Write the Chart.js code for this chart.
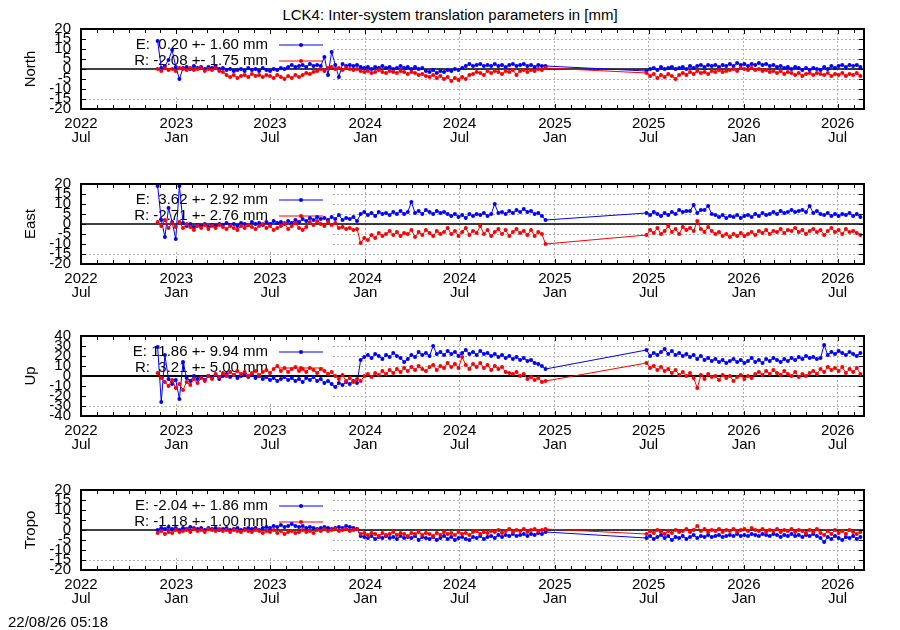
<!DOCTYPE html>
<html>
<head>
<meta charset="utf-8">
<script src="https://cdn.jsdelivr.net/npm/chart.js@4.4.1/dist/chart.umd.min.js"></script>
<style>
  body { margin: 0; width: 900px; height: 630px; background: #fff; position: relative; overflow: hidden;
         font-family: 'Liberation Sans', Arial, sans-serif; color: #000; }
  canvas { position: absolute; left: 0; }
  .title { position: absolute; left: 0; top: 7px; width: 900px; text-align: center; font-size: 15px; line-height: 16px; }
  .stamp { position: absolute; left: 8px; top: 614px; font-size: 15px; line-height: 16px; }
</style>
</head>
<body>
<div class="title">LCK4: Inter-system translation parameters in [mm]</div>
<canvas id="north" width="900" height="136" style="top:19px"></canvas>
<canvas id="east" width="900" height="136" style="top:174px"></canvas>
<canvas id="up" width="900" height="136" style="top:326px"></canvas>
<canvas id="tropo" width="900" height="136" style="top:480px"></canvas>
<div class="stamp">22/08/26 05:18</div>

<script>
// x axis runs in days from the first of July 2022
const axisStart = '2022-07-01';
const axisEnd = '2026-08-21';

// one value a week, two observation periods (gap from Dec 2024 to Jun 2025)
const periodStart = ['2022-11-26', '2025-06-27'];
const periodWeeks = [108, 60];

const tickLabels = [
  ['2022', 'Jul'], ['2023', 'Jan'], ['2023', 'Jul'], ['2024', 'Jan'], ['2024', 'Jul'],
  ['2025', 'Jan'], ['2025', 'Jul'], ['2026', 'Jan'], ['2026', 'Jul'],
];

// North [mm]
const northE = [
  14, 0.5, 1.5, 4.5, 9.5, 1, -5, 0.5, 1, 0,
  1.5, 0.5, 1, 0, 1, 0.5, 1.5, 0, 0.5, -0.5,
  0, -1, -0.5, 0, -1, 0.5, -0.5, 0, -1, 0.5,
  -0.5, -1, 0, -0.5, 0.5, 0, 1, 2, 1, 1.5,
  2, 1, 2.5, 1.5, 2, 1.5, 6, -3, 8.5, 2,
  -4, 2.5, 1.5, 2, 1.5, 2, 1, 0.5, 1, 0,
  1, 0.5, 1.5, 0.5, 1, 0, 0.5, 1.5, 0.5, 1,
  0, 1, 0, 0.5, -1, -1.5, -0.5, -2, -1, -1.5,
  -0.5, -1, 0, -0.5, 0.5, 1.5, 2.5, 1.5, 2, 2.5,
  1.5, 2, 1.5, 2.5, 1.5, 2, 1, 2, 2.5, 1.5,
  2, 2.5, 1.5, 2, 1, 2, 1.5, 1.5,
  // 2025-2026
  -1, 0, 0.5, -0.5, 1, 0, 0.5, 1, 0, 0.5,
  1, 0, 1.5, 0.5, 1.5, 2, 1, 2, 1.5, 2,
  1, 2, 1.5, 2.5, 1.5, 3, 2, 2.5, 1.5, 2.5,
  2, 3, 2, 2.5, 1.5, 2, 1, 1.5, 0.5, 1,
  0, 1, 0.5, -0.5, 0.5, -0.5, 0.5, 0, -0.5, 1,
  0, 1.5, 0.5, 1.5, 2, 1, 2, 1.5, 2, 1,
];
const northR = [
  0, -1, 0.5, -0.5, 0, -1, 0.5, 0, -0.5, 0.5,
  -0.5, 0, 0.5, -1, 0, -0.5, 0.5, -1, -1.5, -3,
  -4, -3, -4.5, -3.5, -3, -4, -2.5, -3.5, -3, -4,
  -3, -3.5, -4.5, -3, -4, -5, -3.5, -4.5, -3, -4,
  -3, -2, -2.5, -1.5, -1, 0, -1, 0.5, 1, 0,
  0.5, -0.5, 0.5, 0, -0.5, 0, -1, -1.5, -1, -2,
  -1.5, -0.5, -1.5, -2, -1, -1.5, -2, -1, -1.5, -2.5,
  -1.5, -2, -3, -2.5, -3.5, -4, -3, -4.5, -3.5, -5,
  -4, -6, -4.5, -5.5, -4, -5, -3, -2.5, -1.5, -2,
  -3, -1, -2, -1, -1.5, -2.5, -1, -1.5, -0.5, -3,
  -1, -0.5, -1.5, -0.5, -1, 0, -0.5, 0.5,
  // 2025-2026
  -2, -3.5, -2.5, -4.5, -3, -4, -2.5, -3.5, -5, -3,
  -2, -3, -1.5, -2.5, -1, -2, -1.5, -2.5, -1, -1.5,
  -0.5, -1.5, -1, -0.5, 0, -1, 0.5, 0, -0.5, 0.5,
  -0.5, 0, -1, -0.5, -1.5, -1, -2, -1, -2.5, -1.5,
  -2, -3, -2, -3.5, -2.5, -2, -3, -2, -2.5, -3,
  -2, -3.5, -2.5, -3, -2, -3.5, -2.5, -3, -2, -3.5,
];

// East [mm]
const eastE = [
  19, 2, -6.5, 8, 1, -7.5, 19, 0.5, -1, 0,
  -1.5, -0.5, -1, 0, -1.5, -0.5, -1, 0, -0.5, 0.5,
  -0.5, 0, -1, 0.5, 0, -0.5, 1, 0, 0.5, -0.5,
  1, 0, 1.5, 0.5, 1, 0, 1.5, 0.5, 2, 1,
  2.5, 1.5, 3, 2, 3.5, 2.5, 3, 2, 3.5, 2.5,
  4.5, 2, 3, 2.5, 3.5, 1.5, 5, 6, 4.5, 5.5,
  4, 6, 5, 5.5, 4.5, 6, 5, 6.5, 5, 6,
  11, 5.5, 6.5, 5, 7, 6, 5, 6.5, 5.5, 6,
  5, 4, 5, 3.5, 4.5, 3, 5, 4, 5, 4.5,
  5.5, 4, 5, 10, 5.5, 6, 5, 6.5, 5.5, 7,
  6, 7.5, 6, 6.5, 5, 5.5, 4, 2,
  // 2025-2026
  5.5, 4.5, 6, 5, 4, 5.5, 4.5, 6, 5, 7,
  6, 6.5, 6.5, 9.5, 5.5, 7, 7, 9, 5, 4.5,
  3.5, 4.5, 3, 4, 3.5, 4.5, 3, 4, 4.5, 3.5,
  5, 4, 5.5, 4.5, 5, 6, 5, 6.5, 5.5, 6,
  7, 6, 6.5, 7, 6, 9, 5.5, 6.5, 5, 4.5,
  5.5, 4, 5, 4, 5, 4.5, 5.5, 4, 5, 3.5,
];
const eastR = [
  1, -1, 2, -2, 0.5, -1.5, 1, -2, 0, -1.5,
  -3, -1, -2, -0.5, -2.5, -1, -2, -0.5, -1.5, -2.5,
  -1, -2, -3, -1, -2, -0.5, -1.5, -2.5, -1, 0,
  -2, -1, -3, -2, -1, 0.5, -2.5, -1, 0.5, -2,
  -3, -1.5, 1, -0.5, 1.5, 0, -1, 1, -0.5, 0.5,
  -2, -1.5, -2.5, -2, -3, -2.5, -9.5, -7, -8, -5.5,
  -7, -4.5, -6, -5, -3.5, -5.5, -4, -6, -4.5, -5,
  -3, -6.5, -4, -5.5, -3, -4.5, -6, -3.5, -5, -4,
  -2, -5, -3.5, -6, -4, -2, -5.5, -3.5, -4.5, -1,
  -5, -3, -6, -4, -2.5, -5, -3, -6, -4, -2.5,
  -4.5, -3.5, -5.5, -3, -6, -4, -5, -10,
  // 2025-2026
  -5.5, -3, -4.5, -2, -5, -3.5, -1, -4, -2.5, -5,
  -1.5, -3, -2, -3.5, 1.5, -2.5, -4, -1.5, -3.5, -5,
  -4, -6, -5, -6.5, -5, -6, -4.5, -6, -5, -4,
  -5.5, -3.5, -4.5, -3, -5, -3.5, -4, -2.5, -4.5, -3,
  -3.5, -2, -4, -3, -5, -3.5, -2.5, -4, -3, -5.5,
  -3.5, -2, -4, -3, -5, -2.5, -4, -3.5, -4.5, -5.5,
];

// Up [mm]
const upE = [
  29, -26, 21, -3, -8, -4, -23, 14, -2, -5,
  0, -3, -1, -4, 0, -2, 1, -3, 0, 2,
  -1, 1, -2, 0, 2, -1, 1, -2, 0, -3,
  -1, -4, -2, -5, -3, -1, -4, -2, -5, -3,
  -6, -2, -4, -1, -5, -3, -7, -5, -8, -11,
  -7, -9, -6, -8, -5, -7, 16, 19, 21, 18,
  22, 20, 17, 21, 19, 23, 20, 18, 14, 17,
  21, 19, 24, 21, 23, 20, 30, 22, 24, 21,
  25, 22, 24, 20, 23, 26, 22, 24, 21, 25,
  22, 23, 20, 22, 19, 21, 18, 20, 17, 19,
  16, 18, 15, 16, 13, 12, 10, 7,
  // 2025-2026
  26, 20, 23, 21, 24, 27, 22, 25, 21, 23,
  20, 22, 19, 21, 17, 20, 16, 18, 15, 17,
  14, 16, 13, 15, 17, 14, 16, 13, 15, 18,
  14, 16, 13, 17, 15, 18, 16, 14, 17, 15,
  18, 16, 19, 17, 20, 18, 19, 17, 18, 31,
  21, 24, 22, 25, 23, 21, 24, 22, 20, 23,
];
const upR = [
  3, -2, -6, -10, -4, -12, -8, -14, -6, -9,
  -3, -7, -2, -5, 0, -3, 2, -1, 3, 0,
  4, 1, 5, 2, 4, 0, 3, 5, 1, 4,
  6, 3, 7, 10, 5, 8, 4, 7, 9, 5,
  7, 4, 8, 6, 3, 7, 5, 2, 4, 0,
  -3, 1, -5, -2, -6, -3, -5, 0, 2, -1,
  3, 1, 5, 2, 6, 3, 7, 4, 8, 5,
  9, 6, 10, 7, 5, 9, 11, 6, 10, 8,
  13, 9, 12, 8, 19, 11, 7, 12, 9, 13,
  8, 11, 6, 10, 7, 9, 4, 3, 2, 4,
  0, 2, -3, -1, -4, -2, -6, -5,
  // 2025-2026
  13, 8, 10, 6, 9, 5, 7, 3, 6, 1,
  4, 0, 3, -2, -12, 1, -3, 2, -1, 0,
  -4, 1, -2, 0, -5, -1, 1, -3, 0, -2,
  2, 4, 1, 5, 2, 6, 3, 1, 5, 2,
  0, 4, -1, 2, 0, 3, 5, 2, 7, 4,
  9, 6, 8, 5, 9, 3, 7, 4, 8, 2,
];

// Tropo [mm]
const tropoE = [
  0, 1, 0.5, 1.5, 0.5, 1, 0, 1, 0.5, 1.5,
  1, 0.5, 1, 0, 1, 0.5, 1, 0, 0.5, 1,
  0, 0.5, 1, 0, 0.5, 1, 0.5, 1, 0, 1,
  1.5, 1, 2, 1.5, 2.5, 1.5, 2, 3, 2, 1.5,
  2, 1, 1.5, 1, 0.5, 1, 1.5, 1, 0.5, 1,
  1.5, 1, 2, 1.5, 1, 0.5, -3, -3.5, -4, -3,
  -4.5, -3.5, -4, -3, -4, -3.5, -4.5, -3, -4, -3.5,
  -4, -3, -5, -3.5, -4, -4.5, -3.5, -5, -4, -3,
  -4.5, -3.5, -5, -4, -3.5, -4.5, -5, -3.5, -4, -3,
  -4.5, -3.5, -3, -4, -2.5, -3.5, -2.5, -3, -2, -3,
  -2.5, -2, -3, -2, -2.5, -1.5, -2, -1,
  // 2025-2026
  -4, -3, -4.5, -3.5, -2.5, -4, -3, -5, -3.5, -4,
  -3, -4.5, -3.5, -2.5, -4, -3, -3.5, -2.5, -3.5, -3,
  -2.5, -3.5, -3, -2.5, -3, -2, -3, -2.5, -3, -2,
  -2.5, -3, -2, -2.5, -3, -2, -2.5, -3.5, -2.5, -3,
  -2, -3, -2.5, -3.5, -2.5, -3, -2, -3, -4, -6,
  -3.5, -4.5, -3, -4, -5, -3.5, -4, -3, -4.5, -3.5,
];
const tropoR = [
  -1.5, -0.5, -2, -1, -1.5, 0, -1, -0.5, 0, -1,
  0.5, -0.5, 0, -1, 0.5, 0, -0.5, 0.5, -0.5, 0,
  -1, 0, -0.5, -1, 0, -0.5, -1, 0, -0.5, -1.5,
  -0.5, -1, 0, -1.5, -0.5, -2, -1, -0.5, -1.5, -1,
  0, -1, -0.5, -1.5, 0, -0.5, 0.5, -0.5, 0, 0.5,
  -0.5, 0, 0.5, -0.5, 0, 0.5, -2, -1.5, -2.5, -1.5,
  -2, -3, -1.5, -2.5, -2, -1, -2.5, -1.5, -2, -3,
  -1.5, -2, -1, -2.5, -1.5, -2, -3, -1.5, -2.5, -1,
  -2, -1.5, -2.5, -1, -2, -1.5, -2.5, -1, -0.5, -2,
  -1, -1.5, -0.5, -1, 0, -1.5, -0.5, 0.5, -1, 0,
  -0.5, 0.5, -1, 0, 0.5, -0.5, 0, 0.5,
  // 2025-2026
  -2, -0.5, -1.5, 0, -1, -2, -0.5, -1.5, 0, -1,
  -0.5, 0.5, -1, 0, 2, -0.5, 0.5, -1, 0, -0.5,
  0.5, -1, 0, -0.5, 0.5, -1, 0, 0.5, -0.5, 1,
  0, -0.5, 0.5, -1, 0, -0.5, 0.5, -1, 0, -0.5,
  0.5, -1, 0, -0.5, -1.5, 0, -1, 0.5, -1.5, -2.5,
  -0.5, -2, 0, -1.5, -0.5, -2, 0, -1, -2, -1,
];

const keyNorth = ['E:  0.20 +- 1.60 mm', 'R: -2.08 +- 1.75 mm'];
const keyEast = ['E:  3.62 +- 2.92 mm', 'R: -2.71 +- 2.76 mm'];
const keyUp = ['E: 11.86 +- 9.94 mm', 'R:  3.21 +- 5.00 mm'];
const keyTropo = ['E: -2.04 +- 1.86 mm', 'R: -1.18 +- 1.00 mm'];

const FONT = "'Liberation Sans', Arial, sans-serif";
const BLUE = '#0000ff';
const RED = '#ff0000';

const dayOf = (s) => (Date.parse(s) - Date.parse(axisStart)) / 86400000;

const days = [];
periodStart.forEach((s, p) => {
  for (let w = 0; w < periodWeeks[p]; w++) days.push(dayOf(s) + 7 * w);
});

// month starts for the small ticks, Jan / Jul get labels
const monthDays = [];
const majorDays = [];
for (let m = 0; m < 50; m++) {
  const d = new Date(Date.UTC(2022, 6 + m, 1));
  const v = (d - Date.parse(axisStart)) / 86400000;
  if (v > dayOf(axisEnd)) break;
  monthDays.push(v);
  if (d.getUTCMonth() % 6 === 0) majorDays.push(v);
}

function line(ctx, x1, y1, x2, y2) {
  ctx.beginPath();
  ctx.moveTo(x1, y1);
  ctx.lineTo(x2, y2);
  ctx.stroke();
}

// gnuplot look: opaque key, zero axis, thick border with inward ticks
const gnuplotFrame = {
  id: 'gnuplotFrame',
  beforeDatasetsDraw(chart, args, opts) {
    const { ctx, chartArea: a } = chart;
    const y = chart.scales.y;
    ctx.save();
    ctx.fillStyle = '#fff';
    const boxBottom = y.getPixelForValue(y.min + (y.max - y.min) * 0.19);
    ctx.fillRect(a.left + 1, a.top + 1, 330 - a.left, boxBottom - a.top);

    ctx.strokeStyle = '#000';
    ctx.lineWidth = opts.zeroWidth;
    const y0 = y.getPixelForValue(0);
    line(ctx, a.left, y0, a.right, y0);

    ctx.font = '15px ' + FONT;
    ctx.textAlign = 'right';
    ctx.textBaseline = 'middle';
    [BLUE, RED].forEach((c, i) => {
      const ky = a.top + 16 + 16 * i;
      ctx.fillStyle = '#000';
      ctx.fillText(opts.key[i], 268, ky);
      ctx.strokeStyle = c;
      ctx.lineWidth = 1;
      line(ctx, 279, ky, 323, ky);
      ctx.fillStyle = c;
      ctx.beginPath();
      ctx.arc(301, ky, 2, 0, Math.PI * 2);
      ctx.fill();
    });
    ctx.restore();
  },
  afterDatasetsDraw(chart) {
    const { ctx, chartArea: a } = chart;
    const { x, y } = chart.scales;
    ctx.save();
    ctx.strokeStyle = '#000';
    ctx.lineWidth = 1;
    monthDays.forEach((d) => {
      const px = Math.round(x.getPixelForValue(d)) + 0.5;
      const len = majorDays.includes(d) ? 5 : 4;
      line(ctx, px, a.bottom, px, a.bottom - len);
      line(ctx, px, a.top, px, a.top + len);
    });
    y.ticks.forEach((t) => {
      const py = Math.round(y.getPixelForValue(t.value)) + 0.5;
      line(ctx, a.left, py, a.left + 5, py);
      line(ctx, a.right, py, a.right - 5, py);
    });
    ctx.lineWidth = 2;
    ctx.strokeRect(a.left, a.top, a.right - a.left, a.bottom - a.top);
    ctx.restore();
  },
};

function makePanel(id, title, yMin, yMax, yStep, blue, red, key, zeroWidth) {
  const font = { family: FONT, size: 15 };
  const grid = { color: '#b0b0b0', lineWidth: 1, drawTicks: false };
  const border = { display: false, dash: [2, 2] };
  new Chart(document.getElementById(id), {
    type: 'line',
    data: {
      datasets: [
        { data: red.map((v, i) => ({ x: days[i], y: v })), borderColor: RED, pointBackgroundColor: RED, order: 1 },
        { data: blue.map((v, i) => ({ x: days[i], y: v })), borderColor: BLUE, pointBackgroundColor: BLUE, order: 2 },
      ],
    },
    options: {
      responsive: false,
      animation: false,
      events: [],
      layout: { padding: { top: 10, right: 36, left: 0, bottom: 0 } },
      elements: {
        line: { borderWidth: 1, tension: 0 },
        point: { radius: 2, borderWidth: 0 },
      },
      plugins: {
        legend: { display: false },
        tooltip: { enabled: false },
        gnuplotFrame: { key, zeroWidth },
      },
      scales: {
        x: {
          type: 'linear',
          min: 0,
          max: dayOf(axisEnd),
          afterBuildTicks: (s) => { s.ticks = majorDays.map((v) => ({ value: v })); },
          afterFit: (s) => { s.height = 46; s.paddingLeft = 0; s.paddingRight = 0; },
          ticks: {
            autoSkip: false, maxRotation: 0, padding: 8, color: '#000',
            font: { family: FONT, size: 15, lineHeight: '14px' },
            callback: (v, i) => tickLabels[i],
          },
          grid,
          border,
        },
        y: {
          min: yMin,
          max: yMax,
          afterFit: (s) => { s.width = 81; s.paddingTop = 0; s.paddingBottom = 0; },
          ticks: { stepSize: yStep, autoSkip: false, padding: 10, color: '#000', font },
          grid,
          border,
          title: { display: true, text: title, color: '#000', font, padding: { top: 22, bottom: 0 } },
        },
      },
    },
    plugins: [gnuplotFrame],
  });
}

makePanel('north', 'North', -20, 20, 5, northE, northR, keyNorth, 1.5);
makePanel('east', 'East', -20, 20, 5, eastE, eastR, keyEast, 1.5);
makePanel('up', 'Up', -40, 40, 10, upE, upR, keyUp, 2);
makePanel('tropo', 'Tropo', -20, 20, 5, tropoE, tropoR, keyTropo, 1.5);
</script>
</body>
</html>
